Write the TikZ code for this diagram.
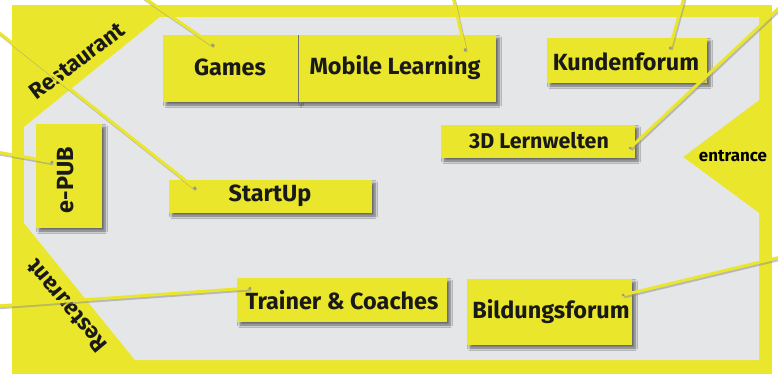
\documentclass[tikz,border=0pt]{standalone}
\usepackage{fontspec}
\setmainfont{Fira Sans}
\usetikzlibrary{shadows,shadows.blur}
\definecolor{fy}{RGB}{234,230,44}
\definecolor{fg}{RGB}{229,230,232}
\begin{document}
\begin{tikzpicture}[x=1bp,y=-1bp,
  box/.style={fill=fy, draw=none, inner sep=0pt,
    blur shadow={shadow xshift=3bp, shadow yshift=-3bp, shadow blur steps=6, shadow blur radius=2.5bp, shadow opacity=55}},
  lbl/.style={font=\bfseries\fontsize{23.5}{26}\selectfont, text=black!90, inner sep=0pt},
  rest/.style={font=\bfseries\fontsize{22.5}{25}\selectfont, text=black!90, inner sep=0pt},
  conshadow/.style={line width=3bp, draw=black!45, opacity=0.5},
  con/.style={line width=3bp, draw=fy},
  dot/.style={circle, fill=black!40, inner sep=0pt, minimum size=3bp},
]
\useasboundingbox (0,0) rectangle (778,374);
% frame
\fill[fy] (12,5) rectangle (772,374);
\fill[fg] (160,17) -- (759,17) -- (759,100) -- (683,157) -- (759,213) -- (759,360) -- (135,360) -- (24,223) -- (24,127) -- cycle;
% restaurant and entrance labels
\node[rest, rotate=37] (rest1) at (77,61) {Restaurant};
\node[rest, rotate=130] (rest2) at (67,306) {Restaurant};
\node[font=\bfseries\fontsize{17}{19}\selectfont, inner sep=0pt] (entr) at (733,156) {entrance};
% boxes
\node[box, minimum width=135bp, minimum height=67bp] (games) at (230.5,68.5) {};
\node[box, minimum width=198bp, minimum height=67bp] (mobile) at (397,68.5) {};
\draw[black!55, line width=0.8bp] (games.north east) -- (games.south east);
\node[box, minimum width=160bp, minimum height=45bp] (kunden) at (627,60.5) {};
\node[box, minimum width=194bp, minimum height=33bp] (lern) at (538,141.5) {};
\node[box, minimum width=66bp, minimum height=104bp] (epub) at (69,176) {};
\node[box, minimum width=203bp, minimum height=33bp] (startup) at (270.5,196.5) {};
\node[box, minimum width=210bp, minimum height=44bp] (trainer) at (342,300) {};
\node[box, minimum width=165bp, minimum height=66bp] (bildung) at (549.5,312) {};
% texts
\node[lbl] at (230,67) {Games};
\node[lbl] at (395,68) {Mobile Learning};
\node[lbl] at (626,62) {Kundenforum};
\node[lbl, font=\bfseries\fontsize{21.5}{24}\selectfont] at (539,141) {3D Lernwelten};
\node[lbl, rotate=90] at (66,180) {e-PUB};
\node[lbl] at (270,196) {StartUp};
\node[lbl] at (342,300) {Trainer \& Coaches};
\node[lbl] at (551,312) {Bildungsforum};
% connectors
\coordinate (o1) at (143,-3);
\coordinate (o2) at (-3,31);
\coordinate (o3) at (-3,152);
\coordinate (o4) at (-3,306);
\coordinate (o5) at (453,-3);
\coordinate (o6) at (684,-3);
\coordinate (o7) at (781,6);
\coordinate (o8) at (781,257);
\node[dot] (d1) at (213,45) {};
\node[dot] (d2) at (195,188) {};
\node[dot] (d3) at (52,162) {};
\node[dot] (d4) at (250,288) {};
\node[dot] (d5) at (465,50) {};
\node[dot] (d6) at (670,48) {};
\node[dot] (d7) at (630,148) {};
\node[dot] (d8) at (623,295) {};
\foreach \i in {1,...,8}{
  \draw[conshadow, transform canvas={xshift=1.2bp, yshift=-1.8bp}] (o\i) -- (d\i.center);
  \draw[con, shorten >=2bp] (o\i) -- (d\i.center);
}
\end{tikzpicture}
\end{document}
